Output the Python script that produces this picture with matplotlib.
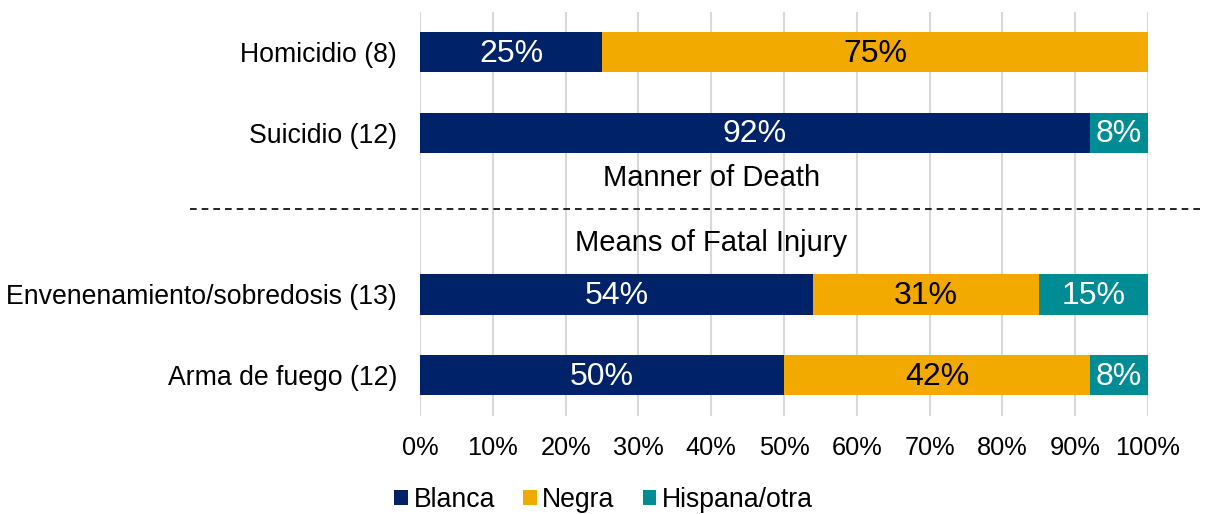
import matplotlib
matplotlib.use("Agg")
import matplotlib.pyplot as plt
import matplotlib.transforms as mtransforms
from matplotlib.patches import Patch

plt.rcParams['font.family'] = ['Liberation Sans', 'DejaVu Sans']

categories = ["Homicidio (8)", "Suicidio (12)", "", "Envenenamiento/sobredosis (13)", "Arma de fuego (12)"]
series_names = ["Blanca", "Negra", "Hispana/otra"]
blanca = [25, 92, None, 54, 50]
negra = [75, 0, None, 31, 42]
hispana = [0, 8, None, 15, 8]
colors = ["#002269", "#F2A900", "#008C95"]
text_colors = ["white", "black", "white"]
group_labels = ["Manner of Death", "Means of Fatal Injury"]
xticks = list(range(0, 101, 10))

fig = plt.figure(figsize=(12.07, 5.14), dpi=100)
ax = fig.add_axes([420/1207, 1-415.5/514, 728/1207, (415.5-11.5)/514])

ypos = list(range(len(categories)))
series = [blanca, negra, hispana]
lefts = [0]*len(categories)
for s, col, tc in zip(series, colors, text_colors):
    for i, v in enumerate(s):
        if v is None or v == 0:
            continue
        ax.barh(ypos[i], v, left=lefts[i], height=0.5, color=col, zorder=3)
        ax.text(lefts[i] + v/2, ypos[i] + 0.02, f"{v}%", ha='center', va='center',
                color=tc, fontsize=23, zorder=4)
        lefts[i] += v

ax.set_xlim(0, 100)
ax.set_ylim(len(categories)-0.5, -0.5)
ax.set_yticks(ypos)
ax.set_yticklabels(categories, fontsize=19.2)
ax.set_xticks(xticks)
ax.set_xticklabels([f"{t}%" for t in xticks], fontsize=18.3)
ax.tick_params(axis='both', length=0)
ax.tick_params(axis='y', pad=16.5)
ax.tick_params(axis='x', pad=15)
ax.grid(axis='x', color='#D9D9D9', linewidth=1.5, zorder=0)
for sp in ax.spines.values():
    sp.set_visible(False)

ax.text(40, 1.56, group_labels[0], ha='center', va='center', fontsize=21)
ax.text(40, 2.37, group_labels[1], ha='center', va='center', fontsize=21)

trans = mtransforms.blended_transform_factory(ax.transAxes, ax.transData)
ax.plot([-0.316, 1.078], [1.94, 1.94], transform=trans, color='black',
        linestyle=(0, (4, 3)), linewidth=1.2, clip_on=False, zorder=5)

handles = [Patch(facecolor=c, label=n) for c, n in zip(colors, series_names)]
fig.legend(handles=handles, loc='center', bbox_to_anchor=(0.5, 1-500/514), ncol=3,
           frameon=False, fontsize=19.2, handlelength=0.52, handleheight=0.52,
           handletextpad=0.2, columnspacing=1.05)

fig.savefig("out.png", dpi=100)
